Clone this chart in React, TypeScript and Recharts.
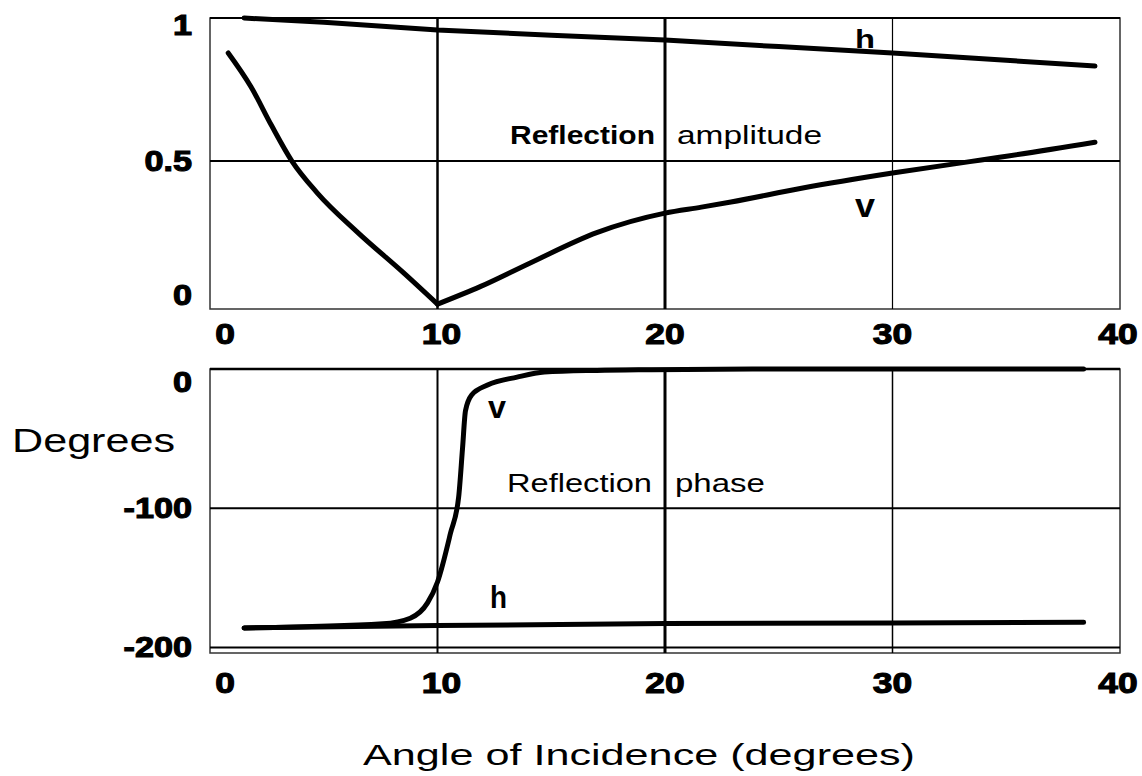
import { LineChart, Line, XAxis, YAxis, ReferenceLine, ReferenceArea } from "recharts";

const FONT = '"Liberation Sans", Arial, Helvetica, sans-serif';

const angleTicks = [0, 10, 20, 30, 40];
const ampTicks = [0, 0.5, 1];
const phaseTicks = [-200, -100, 0];

// reflection amplitude, h polarisation
const ampHAngles = [1.5, 5, 10, 15, 20, 25, 30, 35, 38.9];
const ampHValues = [1.0, 0.985, 0.958, 0.94, 0.923, 0.9, 0.878, 0.852, 0.832];

// reflection amplitude, v polarisation (falling branch down to the Brewster angle, then rising branch)
const ampVFallAngles = [0.8, 1.8, 2.7, 3.6, 4.7, 6.5, 8.5, 10];
const ampVFallValues = [0.878, 0.76, 0.625, 0.5, 0.39, 0.25, 0.11, 0.0];
const ampVRiseAngles = [10, 11.9, 14.1, 17, 20, 21.6, 22.9, 26, 30, 33.4, 34.7, 38.9];
const ampVRiseValues = [0.0, 0.062, 0.145, 0.25, 0.318, 0.339, 0.357, 0.405, 0.458, 0.498, 0.513, 0.566];

// reflection phase, h
const phaseHAngles = [1.5, 10, 20, 30, 38.4];
const phaseHValues = [-186, -184.3, -182.8, -182.5, -182];

// reflection phase, v
const phaseVAngles = [1.5, 7.6, 8.8, 9.56, 10, 10.57, 10.93, 11.1, 11.23, 11.5, 12.2, 13.5, 14.7, 17, 19.4, 25, 38.4];
const phaseVValues = [-186, -183, -179, -168, -153, -118, -92, -57, -30, -18.7, -11.5, -5.8, -2.2, -1, -0.5, 0, 0];

const zip = (xs: number[], ys: number[]) => xs.map((a, i) => ({ a, v: ys[i] }));

const xTickDx: Record<number, number> = { 0: 15, 10: 4, 40: -2 };

const makeXTick = (drop: number) => (p: any) => {
  const v = p.payload.value;
  return (
    <g transform={`translate(${p.x + (xTickDx[v] ?? 0)},${p.y + drop}) scale(1.22,1)`}>
      <text x={0} y={0} textAnchor="middle" fontFamily={FONT} fontWeight="bold" fontSize={29} fill="#000" stroke="#000" strokeWidth={1.1}>
        {v}
      </text>
    </g>
  );
};

const makeYTick = (shift: Record<number, number>) => (p: any) => {
  const v = p.payload.value;
  return (
    <g transform={`translate(${p.x - 16},${p.y + 10 + (shift[v] ?? 0)}) scale(1.18,1)`}>
      <text x={0} y={0} textAnchor="end" fontFamily={FONT} fontWeight="bold" fontSize={29} fill="#000" stroke="#000" strokeWidth={1.1}>
        {v}
      </text>
    </g>
  );
};

const Label = (props: any) => (
  <text
    x={props.x}
    y={props.y}
    fontFamily={FONT}
    fontSize={props.size}
    fontWeight={props.bold ? "bold" : "normal"}
    textLength={props.len}
    lengthAdjust="spacingAndGlyphs"
    fill="#000"
  >
    {props.children}
  </text>
);

const curve = { dataKey: "v", stroke: "#000", strokeWidth: 5, strokeLinecap: "round" as const, dot: false, isAnimationActive: false };

export default function App() {
  return (
    <div style={{ position: "absolute", left: 0, top: 0, width: 1142, height: 776, overflow: "hidden", background: "#fff" }}>
      <div style={{ position: "absolute", left: 0, top: 0 }}>
        <LineChart width={1142} height={360} margin={{ top: 18, right: 22, left: 0, bottom: 0 }}>
          <XAxis
            dataKey="a"
            type="number"
            domain={[0, 40]}
            ticks={angleTicks}
            height={51}
            tickSize={0}
            axisLine={false}
            tickLine={false}
            tick={makeXTick(33)}
          />
          <YAxis
            type="number"
            domain={[-0.017, 1]}
            ticks={ampTicks}
            width={210}
            tickSize={0}
            axisLine={false}
            tickLine={false}
            tick={makeYTick({ 1: 7, 0: -9 })}
          />
          <ReferenceArea x1={0} x2={40} y1={-0.017} y2={1} fill="none" stroke="#333" strokeWidth={1.5} />
          <ReferenceLine y={1} stroke="#000" strokeWidth={2} />
          <ReferenceLine y={0.5} stroke="#000" strokeWidth={2} />
          <ReferenceLine x={10} stroke="#000" strokeWidth={2.5} />
          <ReferenceLine x={20} stroke="#000" strokeWidth={3} />
          <ReferenceLine x={30} stroke="#000" strokeWidth={1.2} />
          <Line data={zip(ampHAngles, ampHValues)} type="linear" {...curve} />
          <Line data={zip(ampVFallAngles, ampVFallValues)} type="monotone" {...curve} />
          <Line data={zip(ampVRiseAngles, ampVRiseValues)} type="monotone" {...curve} />
        </LineChart>
      </div>
      <div style={{ position: "absolute", left: 0, top: 360 }}>
        <LineChart width={1142} height={340} margin={{ top: 9, right: 22, left: 0, bottom: 0 }}>
          <XAxis
            dataKey="a"
            type="number"
            domain={[0, 40]}
            ticks={angleTicks}
            height={47}
            tickSize={0}
            axisLine={false}
            tickLine={false}
            tick={makeXTick(38)}
          />
          <YAxis
            type="number"
            domain={[-204, 0]}
            ticks={phaseTicks}
            width={210}
            tickSize={0}
            axisLine={false}
            tickLine={false}
            tick={makeYTick({ 0: 13 })}
          />
          <ReferenceArea x1={0} x2={40} y1={-204} y2={0} fill="none" stroke="#333" strokeWidth={1.5} />
          <ReferenceLine y={0} stroke="#000" strokeWidth={2.5} />
          <ReferenceLine y={-100} stroke="#000" strokeWidth={2} />
          <ReferenceLine y={-200} stroke="#000" strokeWidth={2} />
          <ReferenceLine x={10} stroke="#000" strokeWidth={2} />
          <ReferenceLine x={20} stroke="#000" strokeWidth={3} />
          <ReferenceLine x={30} stroke="#000" strokeWidth={1.5} />
          <Line data={zip(phaseHAngles, phaseHValues)} type="linear" {...curve} />
          <Line data={zip(phaseVAngles, phaseVValues)} type="monotone" {...curve} />
        </LineChart>
      </div>
      <svg width={1142} height={776} style={{ position: "absolute", left: 0, top: 0, pointerEvents: "none" }}>
        <Label x={510} y={144} size={26} bold len={145}>Reflection</Label>
        <Label x={677} y={144} size={26} len={145}>amplitude</Label>
        <Label x={855} y={48} size={25} bold len={20}>h</Label>
        <Label x={855} y={217} size={34} bold len={20}>v</Label>
        <Label x={488} y={418} size={32} bold len={18}>v</Label>
        <Label x={490} y={608} size={32} bold len={17}>h</Label>
        <Label x={507} y={492} size={25} len={145}>Reflection</Label>
        <Label x={675} y={492} size={25} len={90}>phase</Label>
        <Label x={12} y={452} size={33} len={163}>Degrees</Label>
        <Label x={363} y={765} size={30} len={552}>Angle of Incidence (degrees)</Label>
      </svg>
    </div>
  );
}
